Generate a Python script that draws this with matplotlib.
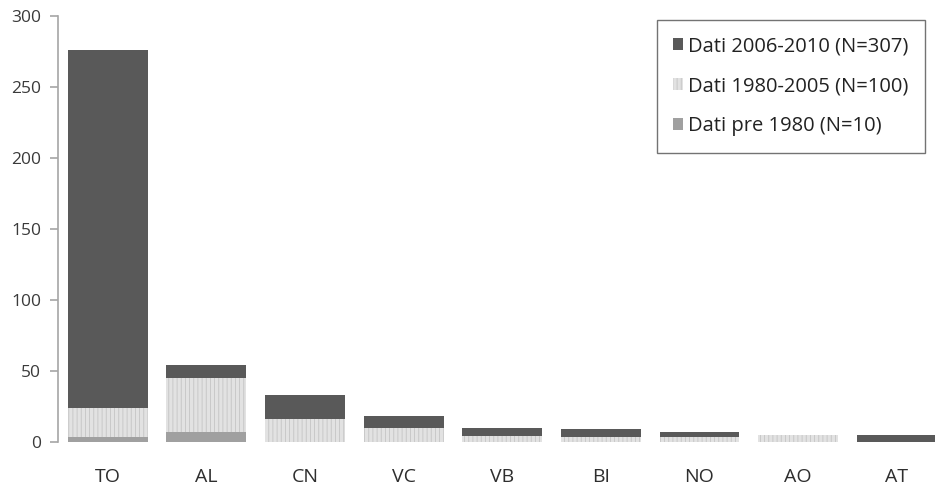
import numpy as np
import matplotlib
matplotlib.use("Agg")
import matplotlib.pyplot as plt

plt.rcParams['font.family'] = ['Open Sans', 'DejaVu Sans']
plt.rcParams['hatch.linewidth'] = 0.6

province = ["TO", "AL", "CN", "VC", "VB", "BI", "NO", "AO", "AT"]
pre_1980 = [3, 7, 0, 0, 0, 0, 0, 0, 0]
dati_1980_2005 = [21, 38, 16, 10, 4, 3, 3, 5, 0]
dati_2006_2010 = [252, 9, 17, 8, 6, 6, 4, 0, 5]
labels = ["Dati 2006-2010 (N=307)", "Dati 1980-2005 (N=100)", "Dati pre 1980 (N=10)"]

fig = plt.figure(figsize=(9.35, 4.88), dpi=100)
# axes runs past the right edge, the original is cropped there
ax = fig.add_axes([58 / 935, 46.3 / 488, 888 / 935, 425.5 / 488])

x = np.arange(len(province))
w = 0.81
pre = np.array(pre_1980)
mid = np.array(dati_1980_2005)
new = np.array(dati_2006_2010)

b_pre = ax.bar(x, pre, w, color="#a0a0a0", linewidth=0)
b_mid = ax.bar(x, mid, w, bottom=pre, color="#e2e2e2", edgecolor="#c4c4c4",
               hatch="||||", linewidth=0)
b_new = ax.bar(x, new, w, bottom=pre + mid, color="#595959", linewidth=0)

ax.set_xlim(-0.505, 8.5)
ax.set_ylim(0, 300)
ax.set_yticks(range(0, 301, 50))
ax.set_xticks(x)
ax.set_xticklabels(province)

for s in ["top", "right", "bottom"]:
    ax.spines[s].set_visible(False)
ax.spines["left"].set_color("#a6a6a6")
ax.spines["left"].set_linewidth(1.2)
ax.tick_params(axis="y", length=6, width=1.2, color="#a6a6a6", labelsize=12.5,
               labelcolor="#3a3a3a", pad=6)
ax.tick_params(axis="x", length=0, labelsize=14, labelcolor="#2e2e2e", pad=19)

leg = ax.legend([b_new, b_mid, b_pre], labels, loc="upper left",
                bbox_to_anchor=(657 / 935, 1 - 20 / 488), bbox_transform=fig.transFigure,
                fontsize=14.5, frameon=True, fancybox=False, handlelength=0.5,
                handleheight=0.5, handletextpad=0.25, labelspacing=1.0,
                borderpad=0.8, borderaxespad=0)
leg.get_frame().set_edgecolor("#505050")
leg.get_frame().set_linewidth(1.0)
for t in leg.get_texts():
    t.set_color("#222222")

fig.savefig("out.png", dpi=100)
